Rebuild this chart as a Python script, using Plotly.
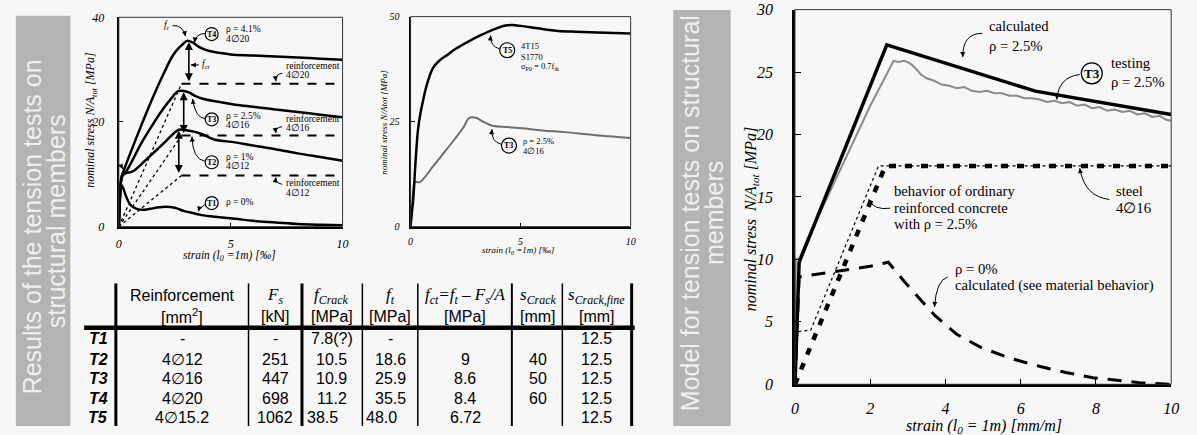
import math
import plotly.graph_objects as go

W, H = 1197, 435
BG = "#f7f7f7"
BAND = "#b3b3b3"
SERIF = "Liberation Serif"
SANS = "Liberation Sans"

# ---------------- DATA: top-left chart (strain [permille], nominal stress [MPa])
t4_strain = [0, 0.05, 0.12, 0.2, 0.5, 1.0, 1.5, 2.0, 2.4, 2.65, 2.85, 3.05, 3.3, 3.6, 4.0, 4.5, 5.0, 6.0, 7.0, 8.0, 9.0, 10.0]
t4_stress = [0, 5.0, 9.5, 10.5, 13.9, 19.3, 24.5, 29.2, 32.6, 34.0, 34.8, 35.5, 35.2, 34.3, 33.6, 33.2, 32.9, 32.7, 32.5, 32.3, 32.1, 31.9]
t3_strain = [0, 0.05, 0.15, 0.3, 0.6, 1.0, 1.5, 2.0, 2.4, 2.65, 3.1, 3.4, 3.8, 4.5, 5.2, 6.0, 7.0, 8.0, 9.0, 10.0]
t3_stress = [0, 6.0, 9.8, 10.4, 12.6, 15.9, 19.4, 22.6, 24.8, 25.9, 25.7, 25.0, 24.4, 23.8, 23.3, 22.9, 22.4, 21.9, 21.4, 20.9]
t2_strain = [0, 0.05, 0.15, 0.3, 0.6, 1.0, 1.5, 2.0, 2.4, 2.68, 3.0, 3.4, 3.7, 4.0, 4.3, 5.2, 6.0, 7.0, 8.0, 9.0, 10.0]
t2_stress = [0, 6.0, 9.6, 10.2, 10.5, 11.9, 13.9, 15.9, 17.6, 18.5, 18.4, 18.1, 17.7, 17.1, 16.6, 16.1, 15.5, 14.8, 14.0, 13.3, 12.6]
t1_strain = [0, 0.04, 0.1, 0.2, 0.35, 0.55, 0.8, 1.06, 1.4, 1.8, 2.1, 2.5, 2.9, 3.3, 3.7, 4.5, 5.2, 6.0, 7.0, 8.0, 9.0, 10.0]
t1_stress = [0, 5.0, 8.0, 7.3, 5.5, 4.0, 3.4, 3.2, 3.4, 3.7, 3.8, 3.6, 3.0, 2.6, 2.2, 1.8, 1.5, 1.1, 0.8, 0.5, 0.35, 0.25]
reinf_labels = ["4∅20", "4∅16", "4∅12"]
reinf_stress = [27.3, 17.4, 9.76]
reinf_start = [2.8, 2.8, 2.8]
peak_strain = [3.13, 2.9, 2.68]
peak_stress = [35.5, 25.9, 18.5]

# ---------------- DATA: top-middle chart
t5_strain = [0, 0.05, 0.12, 0.22, 0.34, 0.45, 0.57, 0.75, 1.02, 1.3, 1.7, 2.07, 2.6, 3.12, 3.7, 4.32, 4.62, 5.0, 5.67, 6.2, 6.72, 7.5, 8.5, 10.0]
t5_stress = [0, 3.0, 6.4, 15.0, 23.2, 27.0, 30.1, 34.0, 37.8, 39.5, 41.0, 42.4, 44.0, 45.4, 46.8, 47.9, 48.0, 47.8, 47.3, 46.9, 46.6, 46.4, 46.2, 46.0]
t3b_strain = [0, 0.06, 0.12, 0.2, 0.42, 1.0, 1.5, 2.0, 2.4, 2.67, 2.97, 3.3, 3.72, 4.4, 5.07, 6.0, 7.0, 8.0, 9.0, 10.0]
t3b_stress = [0, 4.0, 8.7, 10.6, 10.6, 14.2, 17.5, 20.8, 23.6, 25.9, 25.9, 25.0, 24.0, 23.7, 23.4, 22.9, 22.5, 22.0, 21.5, 21.1]

# ---------------- DATA: right chart (model)
calc_strain = [0, 0.11, 2.44, 6.39, 10.0]
calc_stress = [0, 9.77, 27.17, 23.47, 21.6]
test_strain = [0, 0.02, 0.12, 0.3, 0.6, 1.0, 1.5, 2.0, 2.4, 2.62, 2.75, 2.9, 3.0, 3.1, 3.2, 3.35, 3.5, 3.7, 3.9, 4.1,
               4.3, 4.5, 4.7, 4.9, 5.1, 5.3, 5.5, 5.7, 5.9, 6.1, 6.3, 6.5, 6.7, 6.9, 7.1, 7.3, 7.5, 7.7, 7.9, 8.1,
               8.3, 8.5, 8.7, 8.9, 9.1, 9.3, 9.5, 9.7, 9.85, 10.0]
test_stress = [0, 10.0, 10.1, 11.4, 13.3, 15.9, 19.1, 22.3, 24.6, 25.9, 25.8, 25.9, 25.8, 25.6, 25.3, 24.8, 24.5, 24.3, 24.0, 23.9,
               23.7, 23.8, 23.5, 23.4, 23.5, 23.3, 23.3, 23.1, 23.1, 22.9, 22.9, 22.8, 22.6, 22.7, 22.5, 22.6, 22.3, 22.4, 22.1, 22.2,
               21.9, 22.0, 21.8, 21.9, 21.6, 21.7, 21.4, 21.5, 21.2, 21.1]
steel_strain = [0, 2.4, 10.0]
steel_stress = [0, 17.48, 17.48]
rc_strain = [0, 0.05, 0.42, 2.22, 10.0]
rc_stress = [0, 4.2, 4.35, 17.48, 17.48]
plain_strain = [0, 0.05, 0.11, 1.0, 2.0, 2.48, 3.0, 3.71, 4.3, 4.94, 5.7, 6.52, 7.2, 7.92, 9.15, 10.0]
plain_stress = [0, 4.0, 8.6, 9.0, 9.45, 9.77, 7.9, 5.53, 4.0, 2.96, 2.1, 1.42, 0.95, 0.52, 0.13, 0.0]

# ---------------- DATA: table
row_labels = ["T1", "T2", "T3", "T4", "T5"]
col_reinf = ["-", "4∅12", "4∅16", "4∅20", "4∅15.2"]
col_fs = ["-", "251", "447", "698", "1062"]
col_fcrack = ["7.8(?)", "10.5", "10.9", "11.2", "38.5"]
col_ft = ["-", "18.6", "25.9", "35.5", "48.0"]
col_fct = ["", "9", "8.6", "8.4", "6.72"]
col_scrack = ["", "40", "50", "60", ""]
col_sfine = ["12.5", "12.5", "12.5", "12.5", "12.5"]
head1 = ["Reinforcement", "<i>F<sub>s</sub></i>", "<i>f<sub>Crack</sub></i>", "<i>f<sub>t</sub></i>",
         "<i>f<sub>ct</sub>=f<sub>t</sub> – F<sub>s</sub>/A</i>", "<i>s<sub>Crack</sub></i>", "<i>s<sub>Crack,fine</sub></i>"]
head2 = ["[mm<sup>2</sup>]", "[kN]", "[MPa]", "[MPa]", "[MPa]", "[mm]", "[mm]"]

# ---------------- layout helpers (pixel geometry)
AX = {
    "1": dict(x0=116, x1=342, y0=228, y1=10.7, xr=(0, 10), yr=(0, 40)),
    "2": dict(x0=410.7, x1=633, y0=228, y1=10, xr=(0, 10), yr=(0, 50)),
    "3": dict(x0=799, x1=1179, y0=391.7, y1=2.7, xr=(0, 10), yr=(0, 30)),
}


def px(x):
    return x / W


def py(y):
    return 1 - y / H


def to_px(a, x, y):
    g = AX[a]
    X = g["x0"] + (x - g["xr"][0]) / (g["xr"][1] - g["xr"][0]) * (g["x1"] - g["x0"])
    Y = g["y0"] + (y - g["yr"][0]) / (g["yr"][1] - g["yr"][0]) * (g["y1"] - g["y0"])
    return X, Y


def refs(a):
    return ("x", "y") if a == "1" else ("x" + a, "y" + a)


fig = go.Figure()
annotations = []
shapes = []


def paper_text(x, y, s, font, angle=0, xanchor="center", yanchor="middle"):
    annotations.append(dict(x=px(x), y=py(y), xref="paper", yref="paper", text=s, showarrow=False,
                            textangle=angle, xanchor=xanchor, yanchor=yanchor, font=font))


def line(a, xs, ys, color="black", width=2.5, dash="solid", shape="linear"):
    xr, yr = refs(a)
    fig.add_trace(go.Scatter(x=xs, y=ys, mode="lines", xaxis=xr, yaxis=yr,
                             line=dict(color=color, width=width, dash=dash, shape=shape),
                             hoverinfo="skip", showlegend=False, cliponaxis=False))


def text(a, x, y, s, size, family=SERIF, xanchor="left", color="black", yanchor="middle"):
    xr, yr = refs(a)
    annotations.append(dict(x=x, y=y, xref=xr, yref=yr, text=s, showarrow=False, xanchor=xanchor,
                            yanchor=yanchor, font=dict(family=family, size=size, color=color)))


def circle(a, x, y, r, label, size):
    xr, yr = refs(a)
    shapes.append(dict(type="circle", xref=xr, yref=yr, xsizemode="pixel", ysizemode="pixel",
                       xanchor=x, yanchor=y, x0=-r, x1=r, y0=-r, y1=r, line=dict(color="black", width=1.2)))
    annotations.append(dict(x=x, y=y, xref=xr, yref=yr, text="<b>" + label + "</b>", showarrow=False,
                            xanchor="center", yanchor="middle",
                            font=dict(family=SERIF, size=size, color="black")))


def curved_arrow(a, start, ctrl, end, width=1, head=5):
    xr, yr = refs(a)
    shapes.append(dict(type="path", xref=xr, yref=yr,
                       path=f"M {start[0]},{start[1]} Q {ctrl[0]},{ctrl[1]} {end[0]},{end[1]}",
                       line=dict(color="black", width=width)))
    cx, cy = to_px(a, *ctrl)
    ex, ey = to_px(a, *end)
    dx, dy = ex - cx, ey - cy
    n = math.hypot(dx, dy) or 1
    annotations.append(dict(x=end[0], y=end[1], xref=xr, yref=yr, ax=-dx / n * head, ay=-dy / n * head,
                            text="", showarrow=True, arrowhead=2, arrowsize=1, arrowwidth=width,
                            arrowcolor="black"))


# ---------------- bands
shapes.append(dict(type="rect", xref="paper", yref="paper", x0=px(12), x1=px(67), y0=0, y1=py(9),
                   fillcolor=BAND, line=dict(width=0), layer="below"))
shapes.append(dict(type="rect", xref="paper", yref="paper", x0=px(676), x1=px(734), y0=0, y1=py(3),
                   fillcolor=BAND, line=dict(width=0), layer="below"))
band_font = dict(family=SANS, size=25, color="#efefef")
paper_text(28, 228, "Results of the tension tests on", band_font, angle=-90)
paper_text(52, 222, "structural members", band_font, angle=-90)
paper_text(693, 214, "Model for tension tests on structural", band_font, angle=-90)
paper_text(717, 214, "members", band_font, angle=-90)

# ---------------- top-left chart
for xs0, yv in zip(reinf_start, reinf_stress):
    line("1", [0, xs0], [0, yv], width=1.3, dash="dot")
    line("1", [xs0, 10], [yv, yv], width=2, dash="dash")
line("1", t1_strain, t1_stress, shape="spline")
line("1", t2_strain, t2_stress, shape="spline")
line("1", t3_strain, t3_stress, shape="spline")
line("1", t4_strain, t4_stress, shape="spline")
for xv, ytop, ybot in zip(peak_strain, peak_stress, reinf_stress):
    annotations.append(dict(x=xv, y=ytop - 0.2, ax=xv, ay=ybot + 0.2, xref="x", yref="y", axref="x", ayref="y",
                            text="", showarrow=True, arrowhead=2, arrowside="end+start", arrowsize=1,
                            arrowwidth=1.6, arrowcolor="black"))

fs = 9.5
text("1", 1.95, 38.4, "<i>f<sub>t</sub></i>", fs)
curved_arrow("1", (2.4, 38.4), (2.85, 38.6), (2.98, 36.4))
circle("1", 4.15, 36.8, 6.5, "T4", 8)
text("1", 4.7, 37.7, "ρ = 4.1%", fs)
text("1", 4.7, 35.9, "4∅20", fs)
curved_arrow("1", (3.85, 36.9), (3.45, 36.9), (3.38, 35.2))
text("1", 3.62, 30.9, "<i>f<sub>ct</sub></i>", fs)
curved_arrow("1", (3.58, 30.9), (3.4, 30.9), (3.22, 30.9))
circle("1", 4.15, 20.5, 6.5, "T3", 8)
text("1", 4.7, 21.2, "ρ = 2.5%", fs)
text("1", 4.7, 19.4, "4∅16", fs)
curved_arrow("1", (3.85, 20.6), (3.4, 20.9), (3.3, 24.4))
circle("1", 4.15, 12.3, 6.5, "T2", 8)
text("1", 4.7, 13.3, "ρ = 1%", fs)
text("1", 4.7, 11.5, "4∅12", fs)
curved_arrow("1", (3.85, 12.5), (3.3, 12.8), (3.27, 17.2))
circle("1", 4.15, 4.5, 6.5, "T1", 8)
text("1", 4.7, 4.7, "ρ = 0%", fs)
curved_arrow("1", (3.85, 4.2), (3.6, 3.6), (3.55, 2.9))
for yv, lab, yt, yl in zip(reinf_stress, reinf_labels, [30.7, 20.5, 8.3], [29.0, 18.8, 6.5]):
    text("1", 7.4, yt, "reinforcement", fs)
    text("1", 7.4, yl, lab, fs)
curved_arrow("1", (7.3, 29.3), (6.98, 29.1), (7.02, 27.8))
curved_arrow("1", (7.3, 19.1), (6.98, 18.9), (7.02, 17.9))
curved_arrow("1", (7.3, 8.1), (6.98, 8.3), (7.02, 9.4))
text("1", -0.12, 12.3, "<i>f<sub>Crack</sub></i>", 8, xanchor="right")
curved_arrow("1", (-0.12, 12.1), (0.05, 12.0), (0.18, 11.0))

# ---------------- top-middle chart
line("2", t3b_strain, t3b_stress, color="#6e6e6e", width=2, shape="spline")
line("2", t5_strain, t5_stress, width=2.5, shape="spline")
circle("2", 4.39, 42.0, 7.5, "T5", 8)
text("2", 4.92, 42.9, "4T15", 8.5)
text("2", 4.92, 40.5, "S1770", 8.5)
text("2", 4.92, 38.1, "σ<sub>P0</sub> = 0.7f<sub>tk</sub>", 8.5)
curved_arrow("2", (4.05, 42.3), (3.6, 43.0), (3.64, 45.5))
circle("2", 4.47, 19.3, 7.5, "T3", 8)
text("2", 5.0, 20.3, "ρ = 2.5%", 8.5)
text("2", 5.0, 18.1, "4∅16", 8.5)
curved_arrow("2", (4.13, 19.6), (3.65, 20.2), (3.7, 23.2))

# ---------------- right chart
line("3", plain_strain, plain_stress, width=3, dash="14px,10px")
line("3", steel_strain, steel_stress, width=4.5, dash="7px,9px")
line("3", rc_strain, rc_stress, width=1.2, dash="dot")
line("3", test_strain, test_stress, color="#8a8a8a", width=2)
line("3", calc_strain, calc_stress, width=3.5)
fr = 14.7
text("3", 5.1, 28.7, "calculated", fr)
text("3", 5.1, 27.1, "ρ = 2.5%", fr)
curved_arrow("3", (4.98, 28.1), (4.45, 28.1), (4.46, 26.2))
circle("3", 7.89, 24.9, 10.5, "T3", 13)
text("3", 8.36, 25.75, "testing", fr)
text("3", 8.36, 24.2, "ρ = 2.5%", fr)
curved_arrow("3", (7.57, 24.8), (7.0, 24.6), (6.96, 22.8))
text("3", 8.49, 15.5, "steel", fr)
text("3", 8.49, 14.1, "4∅16", fr)
curved_arrow("3", (8.36, 14.8), (7.7, 15.0), (7.57, 17.3))
text("3", 2.57, 15.5, "behavior of ordinary", fr)
text("3", 2.57, 14.1, "reinforced concrete", fr)
text("3", 2.57, 12.8, "with ρ = 2.5%", fr)
curved_arrow("3", (2.53, 14.1), (2.1, 13.9), (1.96, 14.8))
text("3", 4.19, 9.25, "ρ = 0%", fr)
text("3", 4.19, 7.9, "calculated (see material behavior)", fr)
curved_arrow("3", (4.06, 8.6), (3.75, 8.3), (3.71, 6.2))

# axis titles
paper_text(88, 117, "<i>nominal stress N/A<sub>tot</sub> [MPa]</i>", dict(family=SERIF, size=12, color="black"), angle=-90)
paper_text(228, 259, "<i>strain (l<sub>0</sub> =1m) [‰]</i>", dict(family=SERIF, size=11.5, color="black"))
paper_text(383, 120, "<i>nominal stress N/Atot [MPa]</i>", dict(family=SERIF, size=9, color="black"), angle=-90)
paper_text(520, 253, "<i>strain (l<sub>0</sub> =1m) [‰]</i>", dict(family=SERIF, size=9, color="black"))
paper_text(755, 220, "<i>nominal stress  N/A<sub>tot</sub> [MPa]</i>", dict(family=SERIF, size=16, color="black"), angle=-90)
paper_text(990, 424, "<i>strain (l<sub>0</sub> = 1m) [mm/m]</i>", dict(family=SERIF, size=16, color="black"),
           yanchor="top")

# ---------------- table
tfont = dict(family=SANS, size=16, color="black")
col_x = [180, 274, 331, 390, 466, 539, 599]
row_y = [344, 365.5, 386, 406, 426]
for cx, h1, h2 in zip(col_x, head1, head2):
    f1 = dict(family=SANS if h1 == "Reinforcement" else SERIF, size=16 if h1 == "Reinforcement" else 17,
              color="black")
    paper_text(cx, 300, h1, f1)
    paper_text(cx, 321, h2, tfont)
cols = [col_reinf, col_fs, col_fcrack, col_ft, col_fct, col_scrack, col_sfine]
for i, (ry, lab) in enumerate(zip(row_y, row_labels)):
    paper_text(95, ry, "<b><i>" + lab + "</i></b>", tfont)
    for j, (cx, col) in enumerate(zip(col_x, cols)):
        val = col[i]
        if not val:
            continue
        if lab == "T5" and j in (2, 3):
            paper_text(304 if j == 2 else 364, ry, val, tfont, xanchor="left")
        else:
            paper_text(cx, ry, val, tfont)
for xv, wv in zip([113, 247, 301, 362, 418, 513, 564, 634], [3, 1.5, 3, 1.5, 1.5, 2, 1.5, 3]):
    shapes.append(dict(type="line", xref="paper", yref="paper", x0=px(xv), x1=px(xv), y0=0, y1=py(287),
                       line=dict(color="black", width=wv)))
shapes.append(dict(type="line", xref="paper", yref="paper", x0=px(81), x1=px(637), y0=py(333), y1=py(333),
                   line=dict(color="black", width=4.5)))

# ---------------- frames
for a in ["1", "2", "3"]:
    g = AX[a]
    shapes.append(dict(type="rect", xref="paper", yref="paper", x0=px(g["x0"]), x1=px(g["x1"]),
                       y0=py(g["y0"]), y1=py(g["y1"]), line=dict(color="#333333", width=1)))


def axis_common(dom, rng, dtick, size, standoff, ticklen, lw):
    return dict(domain=dom, range=rng, dtick=dtick, showgrid=False, zeroline=False, showline=True,
                linecolor="black", linewidth=lw, ticks="inside", ticklen=ticklen, tickcolor="black",
                tickfont=dict(family=SERIF, size=size, color="black", style="italic"),
                ticklabelstandoff=standoff, fixedrange=True)


g1, g2, g3 = AX["1"], AX["2"], AX["3"]
fig.update_layout(
    width=W, height=H, margin=dict(l=0, r=0, t=0, b=0),
    paper_bgcolor=BG, plot_bgcolor=BG, showlegend=False,
    xaxis=axis_common([px(g1["x0"]), px(g1["x1"])], [0, 10], 5, 12, 5, 4, 2.2),
    yaxis=axis_common([py(g1["y0"]), py(g1["y1"])], [0, 40], 20, 12, 10, 4, 2.2),
    xaxis2=dict(axis_common([px(g2["x0"]), px(g2["x1"])], [0, 10], 5, 10, 4, 4, 2), anchor="y2"),
    yaxis2=dict(axis_common([py(g2["y0"]), py(g2["y1"])], [0, 50], 25, 10, 7, 4, 2), anchor="x2"),
    xaxis3=dict(axis_common([px(g3["x0"]), px(g3["x1"])], [0, 10], 2, 16, 8, 6, 2.5), anchor="y3"),
    yaxis3=dict(axis_common([py(g3["y0"]), py(g3["y1"])], [0, 30], 5, 16, 16, 6, 2.5), anchor="x3"),
    annotations=annotations, shapes=shapes,
)
fig.write_html("out.html", config={"displayModeBar": False},
               post_script="document.body.style.margin='0';document.body.style.padding='0';")
